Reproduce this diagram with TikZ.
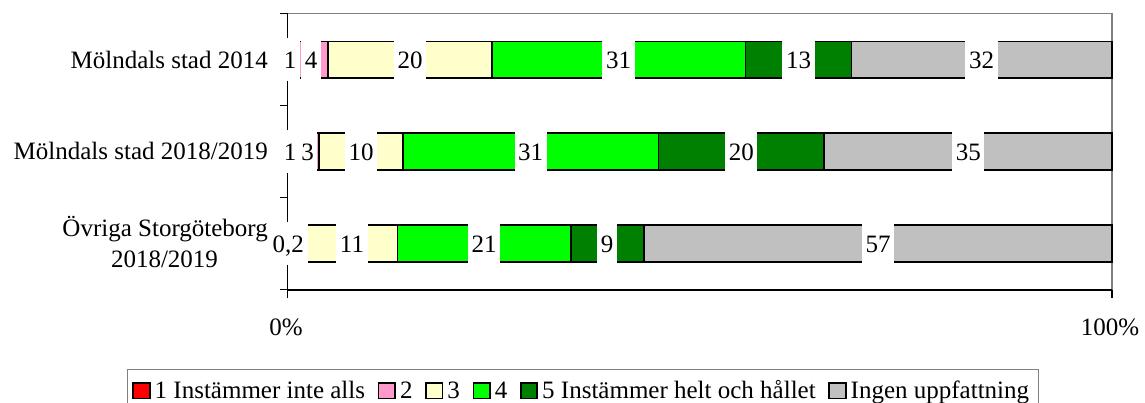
\documentclass[tikz,border=0pt]{standalone}
\usepackage{fontspec}
\setmainfont{Liberation Serif}
\newcommand\chartfont{\fontsize{25}{28.75}\selectfont}
\definecolor{cred}{HTML}{FF0000}
\definecolor{cpink}{HTML}{FF99CC}
\definecolor{cyel}{HTML}{FFFFCC}
\definecolor{cgreen}{HTML}{00FF00}
\definecolor{cdkgreen}{HTML}{008000}
\definecolor{cgray}{HTML}{C0C0C0}
\definecolor{frame}{HTML}{808080}
\begin{document}
\begin{tikzpicture}[x=1pt,y=-1pt,
  seg/.style={draw=black, line width=1.6pt},
  axisline/.style={draw=black, line width=1.1pt},
  frameline/.style={draw=frame, line width=1.2pt},
  lab/.style={fill=white, inner xsep=3.6pt, inner ysep=0pt, minimum height=43pt,
              text height=17pt, text depth=0pt, font=\chartfont},
  txt/.style={inner sep=0pt, font=\chartfont},
  legsq/.style={draw=black, line width=1.6pt, minimum width=16.5pt, minimum height=15.5pt, inner sep=0pt}]
\useasboundingbox (0,0) rectangle (1145,403);

% plot frame and axes
\draw[frameline] (287.5,13.7) -- (1112,13.7) -- (1112,290);
\draw[axisline] (287.5,13.7) -- (287.5,290) -- (1112,290);
\foreach \yy in {13.7,105.7,197.7,289.7}
  \draw[axisline] (280,\yy) -- (287.5,\yy);
\draw[axisline] (287.5,290) -- (287.5,297.5);
\draw[axisline] (1112,290) -- (1112,297.5);

% row 1: Mölndals stad 2014
\path[seg,fill=cred]     (287.5,41.7) rectangle (294.3,78.3);
\path[seg,fill=cpink]    (294.3,41.7) rectangle (327.7,78.3);
\path[seg,fill=cyel]     (327.7,41.7) rectangle (492,78.3);
\path[seg,fill=cgreen]   (492,41.7) rectangle (745.5,78.3);
\path[seg,fill=cdkgreen] (745.5,41.7) rectangle (851.5,78.3);
\path[seg,fill=cgray]    (851.5,41.7) rectangle (1112,78.3);

% row 2: Mölndals stad 2018/2019
\path[seg,fill=cred]     (287.5,133.3) rectangle (295.7,170);
\path[seg,fill=cpink]    (295.7,133.3) rectangle (319,170);
\path[seg,fill=cyel]     (319,133.3) rectangle (402.7,170);
\path[seg,fill=cgreen]   (402.7,133.3) rectangle (658.5,170);
\path[seg,fill=cdkgreen] (658.5,133.3) rectangle (824,170);
\path[seg,fill=cgray]    (824,133.3) rectangle (1112,170);

% row 3: Övriga Storgöteborg 2018/2019
\path[seg,fill=cred]     (287.5,225) rectangle (289.1,262.3);
\path[seg,fill=cpink]    (289.1,225) rectangle (305.6,262.3);
\path[seg,fill=cyel]     (305.6,225) rectangle (397.3,262.3);
\path[seg,fill=cgreen]   (397.3,225) rectangle (570.7,262.3);
\path[seg,fill=cdkgreen] (570.7,225) rectangle (644,262.3);
\path[seg,fill=cgray]    (644,225) rectangle (1112,262.3);

% data labels
\node[lab] (a1) at (290,60) {1};
\node[lab] (a2) at (311.2,60) {4};
\node[lab] (a3) at (410,60) {20};
\node[lab] (a4) at (618.5,60) {31};
\node[lab] (a5) at (798.5,60) {13};
\node[lab] (a6) at (981.5,60) {32};

\node[lab] (b1) at (290,151.7) {1};
\node[lab] (b2) at (307.5,151.7) {3};
\node[lab] (b3) at (361,151.7) {10};
\node[lab] (b4) at (530.7,151.7) {31};
\node[lab] (b5) at (741.3,151.7) {20};
\node[lab] (b6) at (968.3,151.7) {35};

\node[lab] (c1) at (288.3,243.6) {0,2};
\node[lab] (c2) at (352,243.6) {11};
\node[lab] (c3) at (484.2,243.6) {21};
\node[lab] (c4) at (607,243.6) {9};
\node[lab] (c5) at (878,243.6) {57};

% category labels
\node[txt, anchor=base east] (cat1) at (268,68.3) {Mölndals stad 2014};
\node[txt, anchor=base east] (cat2) at (268,160) {Mölndals stad 2018/2019};
\node[txt, anchor=base east] (cat3a) at (268,237) {Övriga Storgöteborg};
\node[txt, anchor=base] (cat3b) at (164.5,267) {2018/2019};

% value axis labels
\node[txt, anchor=base] (x0) at (286,335) {0\%};
\node[txt, anchor=base] (x100) at (1110,335) {100\%};

% legend
\draw[frameline] (127.7,404) -- (127.7,369.3) -- (1038.3,369.3) -- (1038.3,404);
\node[legsq, fill=cred]     (s1) at (141.5,390.7) {};
\node[legsq, fill=cpink]    (s2) at (386.8,390.7) {};
\node[legsq, fill=cyel]     (s3) at (434.2,390.7) {};
\node[legsq, fill=cgreen]   (s4) at (481.6,390.7) {};
\node[legsq, fill=cdkgreen] (s5) at (529,390.7) {};
\node[legsq, fill=cgray]    (s6) at (837.5,390.7) {};
\node[txt, anchor=base west] (t1) at (154.5,398.5) {1 Instämmer inte alls};
\node[txt, anchor=base west] (t2) at (399.8,398.5) {2};
\node[txt, anchor=base west] (t3) at (447.2,398.5) {3};
\node[txt, anchor=base west] (t4) at (494.6,398.5) {4};
\node[txt, anchor=base west] (t5) at (542,398.5) {5 Instämmer helt och hållet};
\node[txt, anchor=base west] (t6) at (850.5,398.5) {Ingen uppfattning};
\end{tikzpicture}
\end{document}
